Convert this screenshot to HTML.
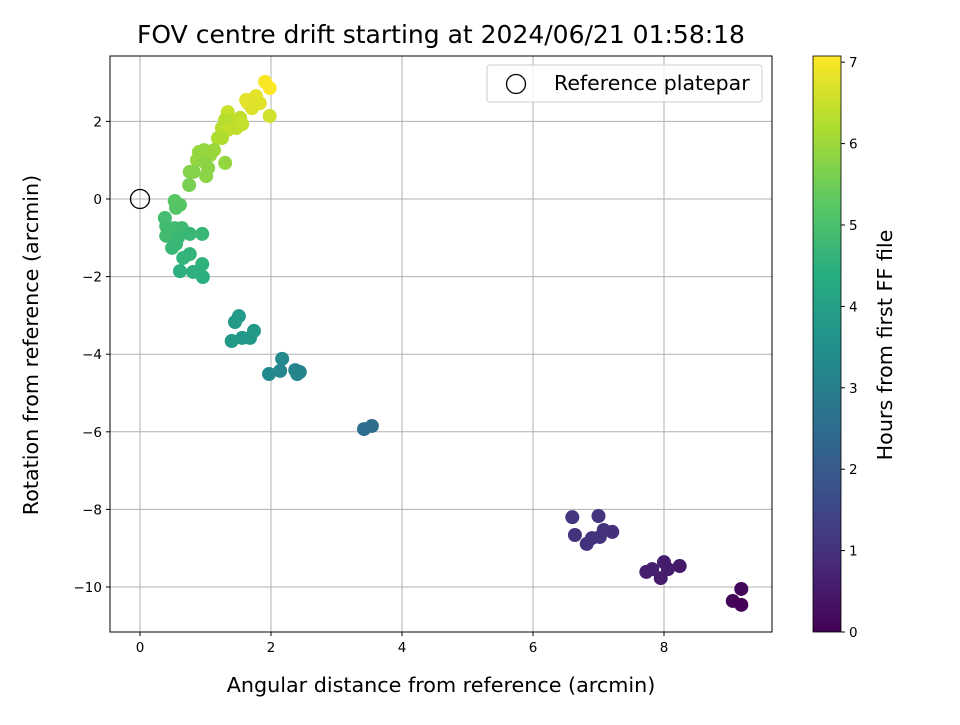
<!DOCTYPE html>
<html><head><meta charset="utf-8"><style>
body{margin:0;background:#fff;font-family:"Liberation Sans","DejaVu Sans",sans-serif}
svg text{font-family:"DejaVu Sans","Liberation Sans",sans-serif}
</style></head><body>
<svg id="chart" width="960" height="720" xmlns="http://www.w3.org/2000/svg">
<defs>
<linearGradient id="vir" x1="0" y1="1" x2="0" y2="0">
<stop offset="0" stop-color="#440154"/><stop offset="0.125" stop-color="#472d7b"/><stop offset="0.25" stop-color="#3b528b"/><stop offset="0.375" stop-color="#2c728e"/><stop offset="0.5" stop-color="#21918c"/><stop offset="0.625" stop-color="#28ae80"/><stop offset="0.75" stop-color="#5ec962"/><stop offset="0.875" stop-color="#addc30"/><stop offset="1" stop-color="#fde725"/>
</linearGradient>
</defs>
<g id="grid"></g>
<g id="pts"></g>
<rect x="110" y="56" width="662" height="576" fill="none" stroke="#000" stroke-width="1"/>
<g id="axes"></g>
<text x="441" y="43" style="font-size:25px" text-anchor="middle">FOV centre drift starting at 2024/06/21 01:58:18</text>
<text x="441" y="692" style="font-size:20.7px" text-anchor="middle">Angular distance from reference (arcmin)</text>
<text transform="translate(38,345) rotate(-90)" style="font-size:20.7px" text-anchor="middle">Rotation from reference (arcmin)</text>
<g>
<rect x="487" y="65" width="275" height="37" rx="3" fill="#fff" fill-opacity="0.8" stroke="#ccc"/>
<circle cx="516" cy="84" r="9.5" fill="none" stroke="#000" stroke-width="1.3"/>
<text x="554" y="90" style="font-size:20.5px">Reference platepar</text>
</g>
<rect x="813" y="56" width="28" height="576" fill="url(#vir)" stroke="#000" stroke-width="0.8"/>
<g id="cb"></g>
<text transform="translate(892,345) rotate(-90)" style="font-size:20.7px" text-anchor="middle">Hours from first FF file</text>
</svg>
<script>
const xs=[1.91,1.98,1.98,1.77,1.65,1.83,1.71,1.62,1.34,1.40,1.53,1.47,1.30,1.25,1.34,1.56,1.19,1.25,1.13,0.98,0.90,0.87,1.07,0.99,1.30,1.04,1.01,0.76,0.82,0.75,0.53,0.61,0.55,0.38,0.40,0.53,0.64,0.46,0.40,0.58,0.76,0.95,0.49,0.55,0.66,0.76,0.95,0.61,0.81,0.96,0.88,1.51,1.45,1.74,1.68,1.56,1.40,2.17,2.14,1.97,2.37,2.44,2.40,3.42,3.54,6.60,7.00,6.64,6.82,6.90,7.02,7.08,7.21,7.73,7.82,8.00,7.95,8.06,8.24,9.18,9.05,9.18];
const ys=[3.02,2.86,2.14,2.65,2.47,2.47,2.34,2.55,2.24,2.04,2.09,1.83,2.04,1.83,1.78,1.93,1.57,1.57,1.26,1.26,1.21,1.0,1.13,0.95,0.93,0.80,0.59,0.70,0.70,0.36,-0.05,-0.15,-0.23,-0.49,-0.70,-0.75,-0.75,-0.95,-0.95,-1.0,-0.9,-0.9,-1.26,-1.16,-1.52,-1.42,-1.68,-1.86,-1.88,-2.01,-1.88,-3.02,-3.17,-3.40,-3.58,-3.58,-3.66,-4.12,-4.43,-4.51,-4.41,-4.46,-4.51,-5.93,-5.85,-8.2,-8.17,-8.66,-8.89,-8.74,-8.71,-8.53,-8.58,-9.61,-9.54,-9.36,-9.77,-9.54,-9.46,-10.05,-10.36,-10.46];
const hours=[7.0,7.05,6.6,6.8,6.7,6.75,6.7,6.75,6.5,6.4,6.4,6.4,6.3,6.3,6.4,6.45,6.2,6.2,6.0,5.9,5.9,5.9,5.95,5.85,5.9,5.8,5.8,5.7,5.75,5.6,5.2,5.2,5.15,4.9,4.85,4.85,4.8,4.8,4.85,4.75,4.7,4.7,4.7,4.7,4.6,4.6,4.55,4.5,4.5,4.45,4.5,3.85,3.85,3.8,3.75,3.75,3.8,3.3,3.25,3.3,3.15,3.15,3.2,2.55,2.5,1.05,1.05,1.0,1.0,1.0,1.0,1.0,0.95,0.6,0.6,0.55,0.55,0.55,0.5,0.1,0.1,0.05];
const xTicks=[0,2,4,6,8];
const yTicks=[2,0,-2,-4,-6,-8,-10];
const cTicks=[0,1,2,3,4,5,6,7];
const NS="http://www.w3.org/2000/svg";
const X=v=>140+v*65.5, Y=v=>199-v*38.8, C=v=>632-v*81.4, CMAX=7.07;
const vir=[[68,1,84],[71,45,123],[59,82,139],[44,114,142],[33,145,140],[40,174,128],[94,201,98],[173,220,48],[253,231,37]];
function col(t){let f=Math.max(0,Math.min(1,t/CMAX))*8,i=Math.min(7,Math.floor(f)),r=f-i;const a=vir[i],b=vir[i+1];return `rgb(${a.map((v,k)=>Math.round(v+(b[k]-v)*r)).join(',')})`;}
function mk(tag,at,p){const e=document.createElementNS(NS,tag);for(const k in at)e.setAttribute(k,at[k]);p.appendChild(e);return e;}
const g=document.getElementById('grid'),ax=document.getElementById('axes'),pts=document.getElementById('pts'),cb=document.getElementById('cb');
xTicks.forEach(t=>{const l=mk('line',{x1:X(t),x2:X(t),y1:56,y2:632,stroke:'#b0b0b0','stroke-width':1},g);

mk('line',{x1:X(t),x2:X(t),y1:632,y2:636,stroke:'#000'},ax);
const tx=mk('text',{x:X(t),y:652,'font-size':13.5,'text-anchor':'middle'},ax);tx.textContent=t;
});
yTicks.forEach(t=>{const l=mk('line',{x1:110,x2:772,y1:Y(t),y2:Y(t),stroke:'#b0b0b0','stroke-width':1},g);

mk('line',{x1:106,x2:110,y1:Y(t),y2:Y(t),stroke:'#000'},ax);
const tx=mk('text',{x:102,y:Y(t)+5,'font-size':13.5,'text-anchor':'end'},ax);tx.textContent=t<0?'\u2212'+(-t):t;
});
xs.forEach((x,i)=>{const c=mk('circle',{cx:X(x),cy:Y(ys[i]),r:7,fill:col(hours[i])},pts);
});
const ref=mk('circle',{cx:X(0),cy:Y(0),r:9.5,fill:'none',stroke:'#000','stroke-width':1.3},pts);

cTicks.forEach(t=>{mk('line',{x1:841,x2:845,y1:C(t),y2:C(t),stroke:'#000'},cb);
const tx=mk('text',{x:849,y:C(t)+5,'font-size':13.5},cb);tx.textContent=t;
});
</script>
</body></html>
